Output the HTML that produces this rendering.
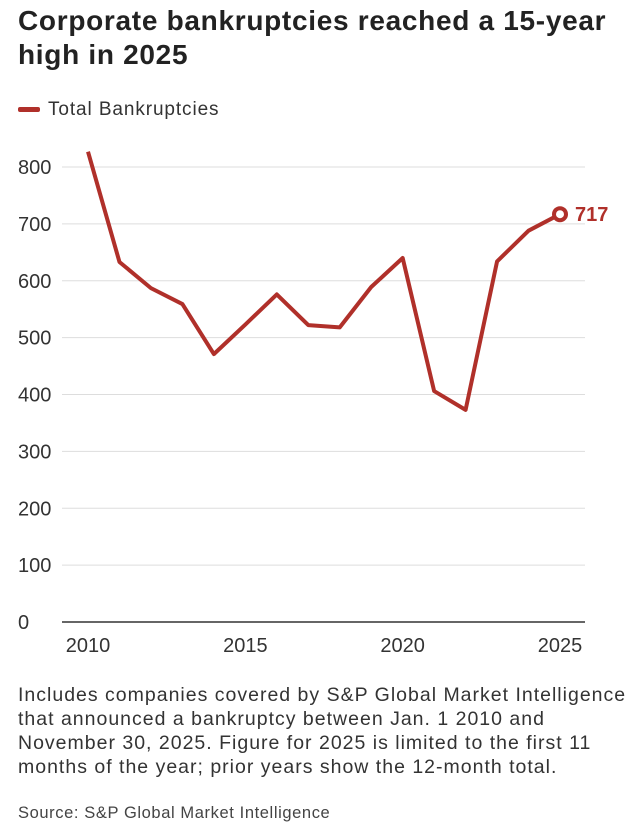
<!DOCTYPE html>
<html><head><meta charset="utf-8"><style>
body{margin:0;background:#fff;font-family:"Liberation Sans",sans-serif;color:#222;}
#wrap{position:relative;width:626px;height:830px;overflow:hidden;}
h1{position:absolute;left:18px;top:4px;margin:0;font-size:28px;letter-spacing:0.7px;line-height:34px;font-weight:bold;color:#222;width:620px;white-space:nowrap;}
.legend{position:absolute;left:18px;top:99px;font-size:19px;letter-spacing:0.9px;color:#333;}
.legend span{display:inline-block;width:22px;height:5px;background:#b0302a;vertical-align:middle;margin-right:8px;border-radius:2px;}
.note{position:absolute;left:18px;top:683px;font-size:19.5px;letter-spacing:1px;line-height:24px;color:#333;width:620px;white-space:nowrap;}
.src{position:absolute;left:18px;top:804px;font-size:16.5px;letter-spacing:0.6px;color:#444;}
svg{position:absolute;left:0;top:0;}
</style></head><body>
<div id="wrap">
<h1>Corporate bankruptcies reached a 15-year<br>high in 2025</h1>
<div class="legend"><span></span>Total Bankruptcies</div>
<svg id="chart" width="626" height="680"></svg>
<div class="note">Includes companies covered by S&amp;P Global Market Intelligence<br>that announced a bankruptcy between Jan. 1 2010 and<br>November 30, 2025. Figure for 2025 is limited to the first 11<br>months of the year; prior years show the 12-month total.</div>
<div class="src">Source: S&amp;P Global Market Intelligence</div>
</div>
<script>
const years=[2010,2011,2012,2013,2014,2015,2016,2017,2018,2019,2020,2021,2022,2023,2024,2025];
const values=[827,633,587,559,471,523,576,522,518,589,640,406,373,634,688,717];
const yTicks=[0,100,200,300,400,500,600,700,800];
const xTicks=[2010,2015,2020,2025];
const NS="http://www.w3.org/2000/svg";
const svg=document.getElementById('chart');
const x=v=>88+(v-2010)*(560-88)/15;
const y=v=>622-v*(622-167)/800;
function mk(t,a){const e=document.createElementNS(NS,t);for(const k in a)e.setAttribute(k,a[k]);svg.appendChild(e);return e;}
yTicks.forEach(t=>{
 const l=mk('line',{x1:62,x2:585,y1:y(t),y2:y(t),stroke:t===0?'#333':'#ddd','stroke-width':t===0?1.5:1});
 
 
 const tx=mk('text',{x:18,y:y(t)+7,'font-size':20,fill:'#333','font-family':'Liberation Sans,sans-serif'});
 tx.textContent=t;
 
 
});
xTicks.forEach(t=>{
 const tx=mk('text',{x:x(t),y:652,'font-size':20,fill:'#333','text-anchor':'middle','font-family':'Liberation Sans,sans-serif'});
 tx.textContent=t;
 
 
});
const p=mk('polyline',{points:years.map((yr,i)=>x(yr)+','+y(values[i])).join(' '),fill:'none',stroke:'#b0302a','stroke-width':4,'stroke-linejoin':'round'});


const li=years.length-1;
const c=mk('circle',{cx:x(years[li]),cy:y(values[li]),r:6,fill:'#fff',stroke:'#b0302a','stroke-width':4});


const lb=mk('text',{x:x(years[li])+15,y:y(values[li])+7,'font-size':20,'font-weight':'bold',fill:'#b0302a','font-family':'Liberation Sans,sans-serif'});
lb.textContent=values[li];


</script>
</body></html>
